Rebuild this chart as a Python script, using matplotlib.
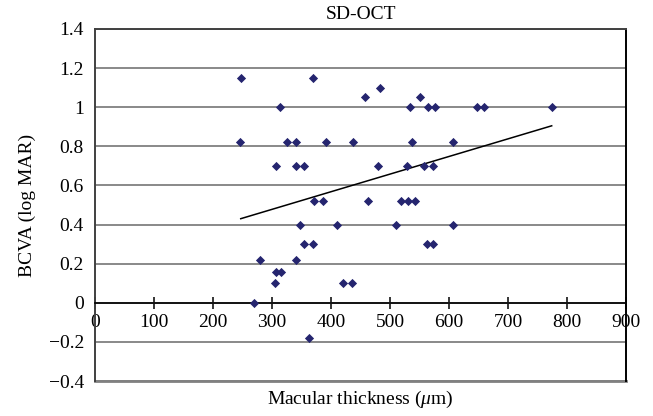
import matplotlib
matplotlib.use("Agg")
import matplotlib.pyplot as plt

plt.rcParams['font.family'] = ['Liberation Serif', 'DejaVu Serif']
plt.rcParams['mathtext.fontset'] = 'custom'
plt.rcParams['mathtext.rm'] = 'Liberation Serif'
plt.rcParams['mathtext.it'] = 'Liberation Serif:italic'

# macular thickness (um) and BCVA (logMAR) per eye
thickness = [247, 370, 313, 458, 483, 534, 550, 564, 576, 648, 659, 774,
             246, 326, 341, 391, 437, 538, 606,
             306, 341, 354, 480, 528, 557, 573,
             372, 386, 462, 518, 530, 542,
             348, 410, 510, 607,
             355, 370, 563, 572,
             280, 340,
             306, 316,
             305, 421, 436,
             270, 362]
bcva = [1.15, 1.15, 1.0, 1.05, 1.1, 1.0, 1.05, 1.0, 1.0, 1.0, 1.0, 1.0,
        0.82, 0.82, 0.82, 0.82, 0.82, 0.82, 0.82,
        0.7, 0.7, 0.7, 0.7, 0.7, 0.7, 0.7,
        0.52, 0.52, 0.52, 0.52, 0.52, 0.52,
        0.4, 0.4, 0.4, 0.4,
        0.3, 0.3, 0.3, 0.3,
        0.22, 0.22,
        0.155, 0.155,
        0.1, 0.1, 0.1,
        0.0, -0.18]

# linear trend line end points
trend_x = [247, 774]
trend_y = [0.43, 0.905]

xticks = [0, 100, 200, 300, 400, 500, 600, 700, 800, 900]
yticks = [-0.4, -0.2, 0, 0.2, 0.4, 0.6, 0.8, 1.0, 1.2, 1.4]
ytick_labels = ['\u22120.4', '\u22120.2', '0', '0.2', '0.4', '0.6', '0.8', '1', '1.2', '1.4']

fs = 14

fig = plt.figure(figsize=(6.53, 4.16), dpi=100)
ax = fig.add_axes([0.1455, 0.0841, 0.8132, 0.8462])

ax.set_xlim(0, 900)
ax.set_ylim(-0.4, 1.4)
ax.set_yticks(yticks)
ax.set_yticklabels(ytick_labels)
ax.set_xticks(xticks)

ax.grid(axis='y', color='#808080', linewidth=1.3)
ax.set_axisbelow(True)

ax.scatter(thickness, bcva, marker='D', s=22, color='#25256f', zorder=3, linewidths=0)
ax.plot(trend_x, trend_y, color='black', linewidth=1.1, zorder=2)

ax.spines['bottom'].set_position(('data', 0))
ax.spines['bottom'].set_color('black')
ax.spines['bottom'].set_linewidth(1.2)
ax.spines['top'].set_color('#404040')
ax.spines['top'].set_linewidth(1.4)
ax.spines['left'].set_color('#404040')
ax.spines['left'].set_linewidth(1.4)
ax.spines['right'].set_color('black')
ax.spines['right'].set_linewidth(1.4)
ax.axhline(-0.4, color='#808080', linewidth=2.0, clip_on=False, zorder=1)

ax.tick_params(axis='x', direction='inout', length=8, width=1.1, pad=4, labelsize=fs)
ax.tick_params(axis='y', length=0, pad=8, labelsize=fs)

ax.set_title('SD-OCT', fontsize=fs, pad=7)
ax.set_xlabel(r'Macular thickness ($\mu$m)', fontsize=fs)
ax.xaxis.set_label_coords(0.5, -0.022)
ax.set_ylabel('BCVA (log MAR)', fontsize=fs)
ax.yaxis.set_label_coords(-0.112, 0.5)

fig.savefig('out.png', dpi=100)
